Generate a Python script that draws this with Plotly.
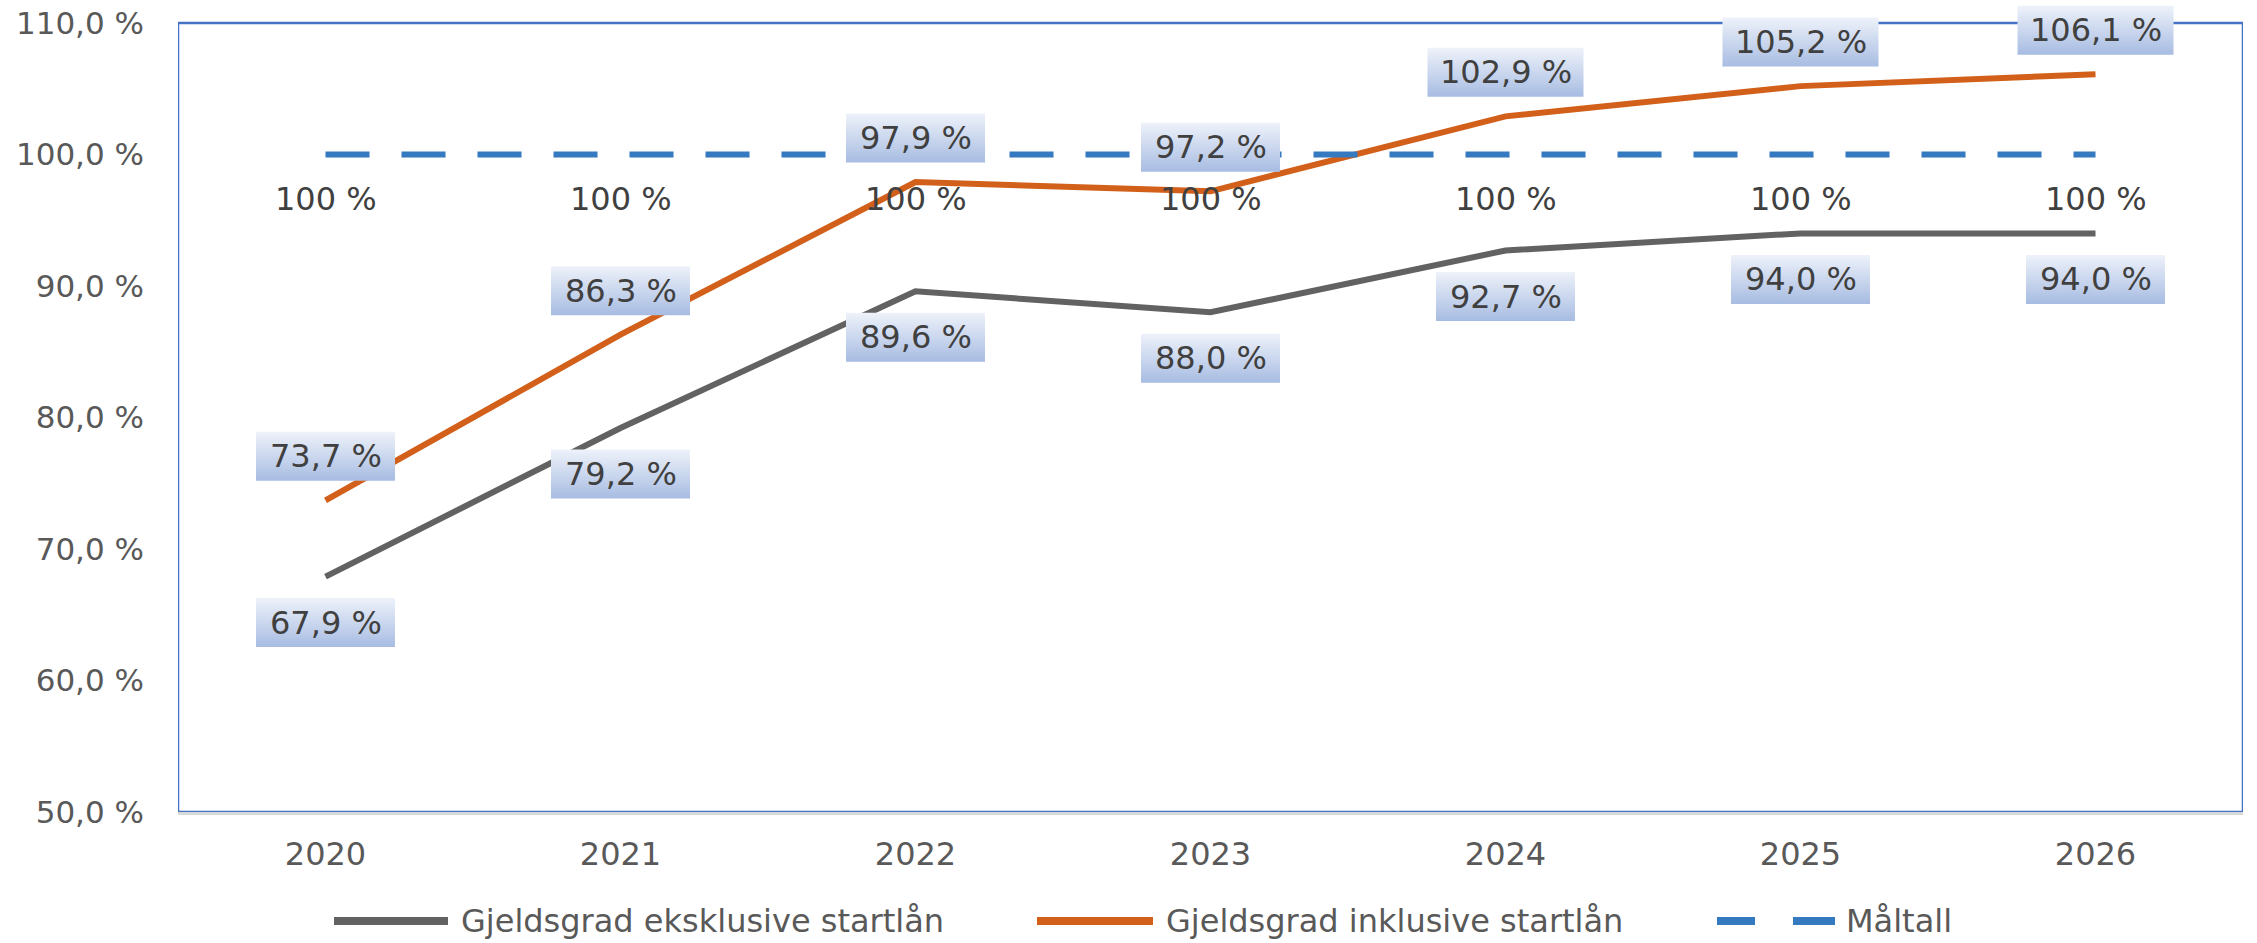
import plotly.graph_objects as go

# ---- data ----
years = [2020, 2021, 2022, 2023, 2024, 2025, 2026]
ekskl = [67.9, 79.2, 89.6, 88.0, 92.7, 94.0, 94.0]
inkl = [73.7, 86.3, 97.9, 97.2, 102.9, 105.2, 106.1]
maltall = [100, 100, 100, 100, 100, 100, 100]
maltall_labels = ["100 %"] * 7
y_ticks = [50, 60, 70, 80, 90, 100, 110]
y_tick_labels = ["50,0 %", "60,0 %", "70,0 %", "80,0 %", "90,0 %", "100,0 %", "110,0 %"]
series_names = ["Gjeldsgrad eksklusive startlån", "Gjeldsgrad inklusive startlån", "Måltall"]

# ---- style / layout constants ----
W, H = 2257, 943
M_L, M_R, M_T, M_B = 178, 14, 0, 131
PLOT_W = W - M_L - M_R
PLOT_H = H - M_T - M_B
PX_PER_Y = 13.15
Y_MIN = y_ticks[0]
Y_MAX_VIEW = Y_MIN + PLOT_H / PX_PER_Y
PX_PER_X = PLOT_W / len(years)

GRAY = "#626262"
ORANGE = "#D2601A"
BLUE = "#3579C0"
BORDER = "#4472C4"
FONT = "DejaVu Sans"
LABEL_COLOR = "#404040"
TICK_COLOR = "#595959"

xs = list(range(len(years)))


def fmt(v):
    return f"{v:.1f}".replace(".", ",") + " %"


fig = go.Figure()

fig.add_trace(go.Scatter(x=xs, y=ekskl, mode="lines", name=series_names[0],
                         line=dict(color=GRAY, width=6), showlegend=False))
fig.add_trace(go.Scatter(x=xs, y=inkl, mode="lines", name=series_names[1],
                         line=dict(color=ORANGE, width=6), showlegend=False))
fig.add_trace(go.Scatter(x=xs, y=maltall, mode="lines", name=series_names[2],
                         line=dict(color=BLUE, width=6, dash="44px,32px"), showlegend=False))

annotations = []


def add_labels(values, offset_px):
    for i, v in enumerate(values):
        txt = fmt(v)
        yc = v + offset_px / PX_PER_Y
        hw = (139 + 17 * (len(txt) - 6)) / 2 / PX_PER_X
        hh = 24.5 / PX_PER_Y
        fig.add_trace(go.Scatter(
            x=[i - hw, i + hw, i + hw, i - hw, i - hw],
            y=[yc - hh, yc - hh, yc + hh, yc + hh, yc - hh],
            mode="lines", fill="toself", line=dict(width=0),
            fillgradient=dict(type="vertical", start=yc - hh, stop=yc + hh,
                              colorscale=[[0, "#A7BCE2"], [1, "#EEF2FA"]]),
            showlegend=False, hoverinfo="skip"))
        annotations.append(dict(x=i, y=yc, text=txt, showarrow=False,
                                xanchor="center", yanchor="middle",
                                font=dict(family=FONT, size=32, color=LABEL_COLOR)))


add_labels(ekskl, -46)
add_labels(inkl, 44)

for i, v in enumerate(maltall):
    annotations.append(dict(x=i, y=v - 44 / PX_PER_Y, text=maltall_labels[i], showarrow=False,
                            xanchor="center", yanchor="middle",
                            font=dict(family=FONT, size=32, color=LABEL_COLOR)))

# ---- custom legend (paper coords) ----
LEG_Y = -109 / PLOT_H


def px2paper(px):
    return (px - M_L) / PLOT_W


shapes = [
    dict(type="rect", xref="x", yref="y", x0=-0.5, x1=len(years) - 0.5, y0=Y_MIN, y1=y_ticks[-1],
         line=dict(color=BORDER, width=2.5), layer="below"),
    dict(type="line", xref="paper", yref="paper", x0=px2paper(334), x1=px2paper(448), y0=LEG_Y, y1=LEG_Y,
         line=dict(color=GRAY, width=8)),
    dict(type="line", xref="paper", yref="paper", x0=px2paper(1037), x1=px2paper(1153), y0=LEG_Y, y1=LEG_Y,
         line=dict(color=ORANGE, width=8)),
    dict(type="line", xref="paper", yref="paper", x0=px2paper(1717), x1=px2paper(1755), y0=LEG_Y, y1=LEG_Y,
         line=dict(color=BLUE, width=8)),
    dict(type="line", xref="paper", yref="paper", x0=px2paper(1793), x1=px2paper(1835), y0=LEG_Y, y1=LEG_Y,
         line=dict(color=BLUE, width=8)),
]
for name, px in zip(series_names, [459, 1164, 1844]):
    annotations.append(dict(xref="paper", yref="paper", x=px2paper(px), y=LEG_Y, text=name,
                            showarrow=False, xanchor="left", yanchor="middle",
                            font=dict(family=FONT, size=32, color=TICK_COLOR)))

fig.update_layout(
    width=W, height=H,
    margin=dict(l=M_L, r=M_R, t=M_T, b=M_B, pad=0),
    paper_bgcolor="white", plot_bgcolor="white",
    hovermode=False,
    shapes=shapes, annotations=annotations,
    showlegend=False,
    xaxis=dict(range=[-0.5, len(years) - 0.5], tickmode="array", tickvals=xs,
               ticktext=[str(y) for y in years], showgrid=False, zeroline=False,
               showline=True, linecolor="#D9D9D9", linewidth=3, ticks="",
               ticklabelstandoff=12,
               tickfont=dict(family=FONT, size=32, color=TICK_COLOR)),
    yaxis=dict(range=[Y_MIN, Y_MAX_VIEW], tickmode="array", tickvals=y_ticks,
               ticktext=y_tick_labels, showgrid=False, zeroline=False, showline=False,
               ticks="", ticklabelstandoff=33,
               tickfont=dict(family=FONT, size=31, color=TICK_COLOR)),
)

fig.write_html("out.html", config={"displayModeBar": False},
               post_script="document.body.style.margin='0';document.body.style.overflow='hidden';")
